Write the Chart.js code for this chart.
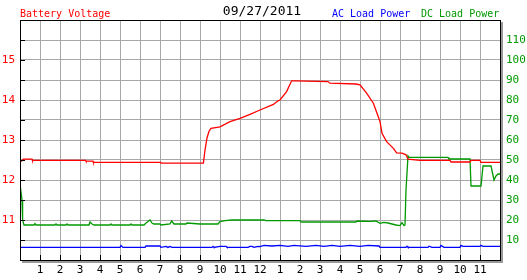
<!DOCTYPE html>
<html>
<head>
<meta charset="utf-8">
<script src="https://cdn.jsdelivr.net/npm/chart.js@4"></script>
<style>
  html, body { margin: 0; padding: 0; background: #fff; }
  #chart { display: block; }
</style>
</head>
<body>
<canvas id="chart" width="527" height="280"></canvas>
<script>
// hours since midnight for each reading, and the reading itself
const batteryHours = [0, 0.17, 0.6, 0.62, 3.28, 3.3, 3.65, 3.67, 7.03, 7.05, 9.17, 9.25, 9.35, 9.45, 9.55, 10.0, 10.5, 11.0, 11.5, 12.0, 12.67, 12.9, 13.0, 13.33, 13.58, 13.75, 15.4, 15.5, 16.8, 17.0, 17.33, 17.67, 17.9, 18.0, 18.1, 18.33, 18.67, 18.83, 19.1, 19.3, 19.4, 20.0, 21.5, 21.55, 22.5, 22.55, 23.0, 23.05, 24];
const batteryVolts = [12.44, 12.52, 12.52, 12.49, 12.49, 12.47, 12.47, 12.44, 12.44, 12.42, 12.42, 12.75, 13.05, 13.22, 13.29, 13.33, 13.46, 13.54, 13.64, 13.75, 13.89, 13.98, 14.0, 14.21, 14.48, 14.48, 14.46, 14.42, 14.40, 14.38, 14.17, 13.92, 13.6, 13.46, 13.17, 12.96, 12.79, 12.68, 12.67, 12.63, 12.52, 12.49, 12.49, 12.45, 12.45, 12.49, 12.49, 12.44, 12.44];

const dcHours = [0, 0.1, 0.13, 0.2, 0.7, 0.75, 0.8, 1.75, 1.8, 1.85, 2.3, 2.35, 2.4, 3.45, 3.5, 3.6, 3.7, 4.5, 4.55, 4.6, 5.5, 5.55, 5.6, 6.2, 6.3, 6.4, 6.5, 6.6, 6.7, 7.0, 7.05, 7.5, 7.58, 7.7, 8.3, 8.35, 9.0, 9.4, 9.9, 10.0, 10.25, 10.6, 12.2, 12.3, 14.0, 14.05, 16.8, 16.85, 17.5, 17.8, 18.0, 18.2, 18.4, 18.6, 18.8, 19.0, 19.1, 19.2, 19.25, 19.3, 19.4, 19.45, 21.4, 21.45, 22.5, 22.55, 23.05, 23.15, 23.55, 23.7, 23.8, 23.9, 24];
const dcWatts = [38, 30, 20, 17.5, 17.5, 18.2, 17.5, 17.5, 18, 17.5, 17.5, 18, 17.5, 17.5, 19, 18, 17.5, 17.5, 18, 17.5, 17.5, 18, 17.5, 17.5, 18.5, 19.2, 20, 18.5, 18, 18, 17.5, 18, 19.5, 18, 18, 18.5, 18, 18, 18, 19.2, 19.7, 20, 20, 19.7, 19.7, 19, 19, 19.5, 19.3, 19.5, 18.3, 18.8, 18.5, 18.0, 17.5, 17.2, 18.7, 17.2, 17.5, 35, 52, 51.3, 51.3, 50.5, 50.5, 37, 37, 47, 47, 40, 42, 43, 43];

const acHours = [0, 5.0, 5.05, 5.15, 6.25, 6.3, 7.0, 7.05, 7.3, 7.4, 7.5, 7.6, 9.6, 9.65, 9.7, 10.0, 10.3, 10.35, 11.4, 11.5, 11.6, 11.7, 11.9, 12.0, 12.2, 12.6, 13.0, 13.4, 13.7, 14.3, 14.8, 15.2, 15.6, 16.0, 16.5, 17.0, 17.4, 17.95, 18.0, 19.3, 19.35, 19.4, 20.4, 20.45, 20.6, 21.0, 21.05, 21.2, 22.0, 22.05, 22.15, 23.0, 23.05, 23.15, 24];
const acWatts = [6.3, 6.3, 7.2, 6.3, 6.3, 7.0, 7.0, 6.3, 6.8, 6.3, 6.8, 6.3, 6.3, 6.8, 6.3, 6.8, 6.8, 6.3, 6.3, 6.8, 6.8, 6.3, 6.8, 6.7, 7.3, 7.0, 7.3, 6.8, 7.3, 6.8, 7.3, 6.8, 7.3, 6.8, 7.3, 6.8, 7.3, 7.0, 6.3, 6.3, 6.9, 6.3, 6.3, 6.9, 6.3, 6.3, 7.3, 6.3, 6.3, 7.3, 6.8, 6.8, 7.3, 6.8, 6.8];

const voltTicks = [11, 12, 13, 14, 15];
const powerTicks = [10, 20, 30, 40, 50, 60, 70, 80, 90, 100, 110];
const hourLabels = ["1", "2", "3", "4", "5", "6", "7", "8", "9", "10", "11", "12", "1", "2", "3", "4", "5", "6", "7", "8", "9", "10", "11"];

const RED = "#ff0000";
const GREEN = "#009900";
const BLUE = "#0000ff";
const GRID = "#a8a8a8";
const MONO = "'DejaVu Sans Mono', 'Liberation Mono', monospace";

function toPoints(xs, ys) {
    return xs.map((x, i) => ({ x: x, y: ys[i] }));
}

// titles, frame with shadow and the little inside tick marks
const decorations = {
    id: "decorations",
    afterDraw(chart) {
        const ctx = chart.ctx;
        const area = chart.chartArea;
        const xs = chart.scales.x;
        const ys = chart.scales.y;
        ctx.save();

        ctx.strokeStyle = "#000";
        ctx.lineWidth = 1;
        ctx.beginPath();
        for (let v = 10.5; v < 16; v += 0.5) {
            const py = Math.round(ys.getPixelForValue(v)) + 0.5;
            ctx.moveTo(area.left, py);
            ctx.lineTo(area.left + 5, py);
        }
        for (let h = 1; h < 24; h++) {
            const px = Math.round(xs.getPixelForValue(h)) + 0.5;
            ctx.moveTo(px, area.bottom);
            ctx.lineTo(px, area.bottom - 5);
        }
        ctx.stroke();

        ctx.fillStyle = "#999";
        ctx.fillRect(area.right + 1, area.top + 2, 2, area.bottom - area.top + 1);
        ctx.fillRect(area.left + 2, area.bottom + 1, area.right - area.left + 1, 2);
        ctx.strokeStyle = "#000";
        ctx.strokeRect(area.left + 0.5, area.top + 0.5, area.right - area.left, area.bottom - area.top);

        ctx.textBaseline = "alphabetic";
        ctx.textAlign = "left";
        ctx.font = "10px " + MONO;
        ctx.fillStyle = RED;
        ctx.fillText("Battery Voltage", 20, 17);
        ctx.fillStyle = BLUE;
        ctx.fillText("AC Load Power", 332, 17);
        ctx.fillStyle = GREEN;
        ctx.fillText("DC Load Power", 421, 17);
        ctx.font = "13px " + MONO;
        ctx.fillStyle = "#000";
        ctx.textAlign = "center";
        ctx.fillText("09/27/2011", 262, 15);
        ctx.restore();
    },
};

new Chart(document.getElementById("chart"), {
    type: "line",
    data: {
        datasets: [
            {
                label: "Battery Voltage",
                data: toPoints(batteryHours, batteryVolts),
                borderColor: RED,
                yAxisID: "y",
            },
            {
                label: "DC Load Power",
                data: toPoints(dcHours, dcWatts),
                borderColor: GREEN,
                yAxisID: "y2",
            },
            {
                label: "AC Load Power",
                data: toPoints(acHours, acWatts),
                borderColor: BLUE,
                yAxisID: "y2",
            },
        ],
    },
    options: {
        responsive: false,
        animation: false,
        layout: { padding: { top: 20, left: 0, right: 0, bottom: 0 } },
        elements: {
            point: { radius: 0 },
            line: { borderWidth: 1.3, tension: 0 },
        },
        plugins: {
            legend: { display: false },
            title: { display: false },
            tooltip: { enabled: false },
        },
        scales: {
            x: {
                type: "linear",
                min: 0,
                max: 24,
                afterFit(scale) { scale.height = 20; },
                ticks: {
                    stepSize: 1,
                    autoSkip: false,
                    maxRotation: 0,
                    padding: 4,
                    color: "#000",
                    font: { family: MONO, size: 11 },
                    callback: (v) => hourLabels[v - 1] || "",
                },
                grid: { color: GRID, drawTicks: false },
                border: { display: false },
            },
            y: {
                position: "left",
                min: 10,
                max: 16,
                afterFit(scale) { scale.width = 20; },
                ticks: {
                    stepSize: 0.5,
                    autoSkip: false,
                    padding: 5,
                    color: RED,
                    font: { family: MONO, size: 11 },
                    callback: (v) => (voltTicks.includes(v) ? String(v) : ""),
                },
                grid: { color: GRID, drawTicks: false },
                border: { display: false },
            },
            y2: {
                position: "right",
                min: 0,
                max: 120,
                afterFit(scale) { scale.width = 27; },
                ticks: {
                    stepSize: 10,
                    autoSkip: false,
                    padding: 6,
                    color: GREEN,
                    font: { family: MONO, size: 11 },
                    callback: (v) => (powerTicks.includes(v) ? String(v) : ""),
                },
                grid: { drawOnChartArea: false, drawTicks: false },
                border: { display: false },
            },
        },
    },
    plugins: [decorations],
});
</script>
</body>
</html>
